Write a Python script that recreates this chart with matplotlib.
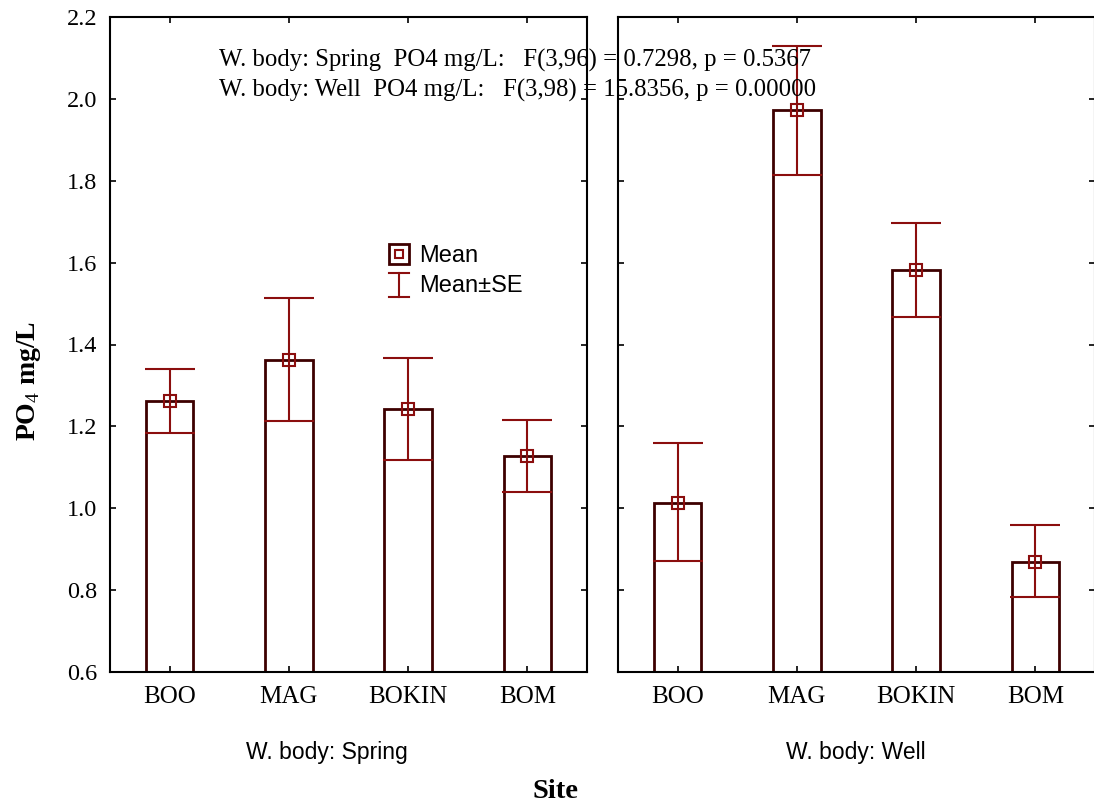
import matplotlib
matplotlib.use("Agg")
import matplotlib.pyplot as plt
from matplotlib.legend_handler import HandlerBase
from matplotlib.lines import Line2D
import numpy as np

sites = ["BOO", "MAG", "BOKIN", "BOM"]
panels = ["W. body: Spring", "W. body: Well"]
spring_mean = [1.262, 1.362, 1.242, 1.127]
spring_upper = [1.340, 1.513, 1.367, 1.215]
spring_lower = [1.184, 1.213, 1.118, 1.040]
well_mean = [1.012, 1.972, 1.582, 0.869]
well_upper = [1.159, 2.129, 1.696, 0.959]
well_lower = [0.871, 1.814, 1.467, 0.783]
yticks = [0.6, 0.8, 1.0, 1.2, 1.4, 1.6, 1.8, 2.0, 2.2]
anova_lines = ["W. body: Spring  PO4 mg/L:   F(3,96) = 0.7298, p = 0.5367",
               "W. body: Well  PO4 mg/L:   F(3,98) = 15.8356, p = 0.00000"]

serif = "Liberation Serif"
sans = "Liberation Sans"
bar_edge = "#3d0000"
err_col = "#8b0e0e"
plt.rcParams["mathtext.fontset"] = "custom"
plt.rcParams["mathtext.rm"] = serif
plt.rcParams["mathtext.bf"] = serif + ":bold"

W, H = 1094, 807
fig = plt.figure(figsize=(W / 100, H / 100), dpi=100)
ax_w = 477 / W
ax_h = 655 / H
ax_b = (H - 672) / H
axL = fig.add_axes([110 / W, ax_b, ax_w, ax_h])
axR = fig.add_axes([618 / W, ax_b, ax_w, ax_h])

data = [(spring_mean, spring_upper, spring_lower), (well_mean, well_upper, well_lower)]
x = np.arange(len(sites))
for ax, (m, u, l) in zip([axL, axR], data):
    m = np.array(m); u = np.array(u); l = np.array(l)
    ax.bar(x, m, width=0.4, bottom=0, facecolor="white", edgecolor=bar_edge, linewidth=2, zorder=1)
    ax.errorbar(x, m, yerr=[m - l, u - m], fmt="s", markersize=8, markerfacecolor="none",
                markeredgecolor=err_col, markeredgewidth=1.5, ecolor=err_col, elinewidth=1.5,
                capsize=18, capthick=1.5, zorder=5)
    ax.set_xlim(-0.5, 3.5)
    ax.set_ylim(0.6, 2.2)
    ax.set_yticks(yticks)
    ax.set_xticks(x)
    ax.set_xticklabels(sites, fontfamily=serif, fontsize=18)
    ax.tick_params(direction="in", length=4, width=1.2, top=True, right=True, pad=10)
    for s in ax.spines.values():
        s.set_linewidth(1.5)

axL.set_yticklabels([f"{v:.1f}" for v in yticks], fontfamily=serif, fontsize=17.5)
axL.tick_params(axis="y", pad=9)
axR.set_yticklabels([])

fig.text(327 / W, 1 - 752 / H, panels[0], fontfamily=sans, fontsize=16.5, ha="center", va="center")
fig.text(856 / W, 1 - 752 / H, panels[1], fontfamily=sans, fontsize=16.5, ha="center", va="center")
fig.text(29 / W, 1 - 381 / H, "PO$_4$ mg/L", fontfamily=serif, fontsize=20, fontweight="bold",
         rotation=90, ha="center", va="center")
fig.text(555 / W, 1 - 792 / H, "Site", fontfamily=serif, fontsize=20.5, fontweight="bold",
         ha="center", va="center")
for i, t in enumerate(anova_lines):
    fig.text(219 / W, 1 - (60 + 30 * i) / H, t, fontfamily=serif, fontsize=17.8, ha="left", va="center")


class HandlerEB(HandlerBase):
    def create_artists(self, legend, orig, xd, yd, w, h, fontsize, trans):
        cx = xd + w / 2
        top = yd + h * 1.15
        bot = yd - h * 0.25
        kw = dict(color=err_col, lw=1.5, transform=trans)
        return [Line2D([cx, cx], [bot, top], **kw),
                Line2D([cx - w * 0.45, cx + w * 0.45], [top, top], **kw),
                Line2D([cx - w * 0.45, cx + w * 0.45], [bot, bot], **kw)]


big = Line2D([], [], ls="none", marker="s", markersize=14, markerfacecolor="none",
             markeredgecolor=bar_edge, markeredgewidth=2)
small = Line2D([], [], ls="none", marker="s", markersize=6, markerfacecolor="none",
               markeredgecolor=err_col, markeredgewidth=1.5)
ebh = Line2D([], [])
leg = axL.legend([(big, small), ebh], ["Mean", "Mean±SE"], loc="upper left",
                 bbox_to_anchor=(0.563, 0.666), frameon=False, prop={"family": sans, "size": 17},
                 handlelength=0.95, handletextpad=0.35, labelspacing=0.35, borderaxespad=0,
                 handler_map={ebh: HandlerEB()})

fig.savefig("out.png", dpi=100)
